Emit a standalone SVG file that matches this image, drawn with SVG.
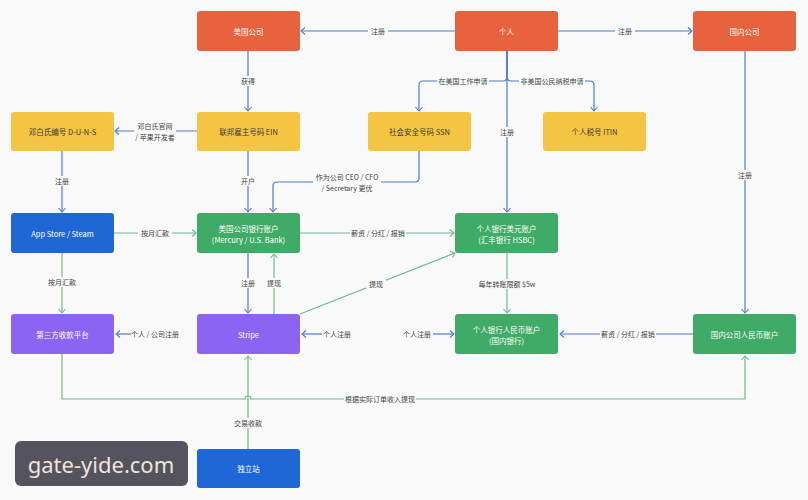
<svg xmlns="http://www.w3.org/2000/svg" width="808" height="500" viewBox="0 0 808 500">
<defs>
<marker id="ab" markerWidth="8" markerHeight="8" refX="5" refY="4" orient="auto" markerUnits="userSpaceOnUse"><path d="M1,0.5 L5,4 L1,7.5" fill="none" stroke="#4a7cd0" stroke-width="1.1"/></marker>
<marker id="ag" markerWidth="8" markerHeight="8" refX="5" refY="4" orient="auto" markerUnits="userSpaceOnUse"><path d="M1,0.5 L5,4 L1,7.5" fill="none" stroke="#6cba8b" stroke-width="1.1"/></marker>
<style>
text{font-family:"Noto Sans CJK SC","Noto Sans",sans-serif;text-anchor:middle;dominant-baseline:central}
.n{font-size:7.5px;fill:#fff}
.d{font-size:7.5px;fill:#3a3a3a}
.l{font-size:7px;fill:#444}
.b{fill:none;stroke:#4a7cd0;stroke-width:1.2;marker-end:url(#ab)}
.g{fill:none;stroke:#6cba8b;stroke-width:1.2;marker-end:url(#ag)}
.bn{fill:none;stroke:#4a7cd0;stroke-width:1.2}
.gn{fill:none;stroke:#6cba8b;stroke-width:1.2}
.lb{fill:#f9f9fa}
.or{fill:#e7623d}.ye{fill:#f5c443}.bl{fill:#1f67d7}.gr{fill:#3fab66}.pu{fill:#8b64f1}
</style>
</defs>
<rect width="808" height="500" fill="#f9f9fa"/>
<g id="connectors">
<!-- 个人 -> 美国公司 -->
<path class="b" d="M455,31 H301"/>
<rect class="lb" x="368" y="26" width="20" height="10"/><text class="l" x="378" y="31">注册</text>
<!-- 个人 -> 国内公司 -->
<path class="b" d="M558,31 H692"/>
<rect class="lb" x="615" y="26" width="20" height="10"/><text class="l" x="625" y="31">注册</text>
<!-- 美国公司 -> EIN -->
<path class="b" d="M248,51 V111"/>
<rect class="lb" x="238" y="76" width="20" height="10"/><text class="l" x="248" y="81">获得</text>
<!-- 个人 -> SSN / ITIN -->
<path class="b" d="M507,51 V77 Q507,81 503,81 H423 Q419,81 419,85 V111"/>
<path class="b" d="M507,51 V77 Q507,81 511,81 H590 Q594,81 594,85 V111"/>
<rect class="lb" x="437" y="76" width="52" height="10"/><text class="l" x="463" y="81">在美国工作申请</text>
<rect class="lb" x="519" y="76" width="66" height="10"/><text class="l" x="552" y="81">非美国公民纳税申请</text>
<!-- 个人 -> 个人银行美元账户 -->
<path class="b" d="M507,51 V212"/>
<rect class="lb" x="497" y="127" width="20" height="10"/><text class="l" x="507" y="132">注册</text>
<!-- EIN -> DUNS -->
<path class="b" d="M197,131 H115"/>
<rect class="lb" x="134" y="121" width="42" height="22"/>
<text class="l" x="155" y="126">邓白氏官网</text><text class="l" x="155" y="137">/ 苹果开发者</text>
<!-- DUNS -> App Store -->
<path class="b" d="M62,151 V212"/>
<rect class="lb" x="52" y="176" width="20" height="10"/><text class="l" x="62" y="181">注册</text>
<!-- EIN -> 美国公司银行账户 -->
<path class="b" d="M248,151 V212"/>
<rect class="lb" x="238" y="176" width="20" height="10"/><text class="l" x="248" y="181">开户</text>
<!-- SSN -> 美国公司银行账户 -->
<path class="b" d="M419,151 V178 Q419,182 415,182 H277 Q273,182 273,186 V212"/>
<rect class="lb" x="313" y="171" width="68" height="23"/>
<text class="l" x="347" y="177">作为公司 CEO / CFO</text><text class="l" x="347" y="188">/ Secretary 更优</text>
<!-- 国内公司 -> 国内公司人民币账户 -->
<path class="b" d="M745,51 V313"/>
<rect class="lb" x="735" y="170" width="20" height="10"/><text class="l" x="745" y="175">注册</text>
<!-- App Store -> 美国公司银行账户 -->
<path class="g" d="M114,233 H196"/>
<rect class="lb" x="138" y="228" width="34" height="10"/><text class="l" x="155" y="233">按月汇款</text>
<!-- 美国公司银行账户 -> 个人银行美元账户 -->
<path class="g" d="M300,233 H454"/>
<rect class="lb" x="350" y="228" width="56" height="10"/><text class="l" x="378" y="233">薪资 / 分红 / 报销</text>
<!-- App Store -> 第三方收款平台 -->
<path class="g" d="M62,253 V313"/>
<rect class="lb" x="45" y="277" width="34" height="10"/><text class="l" x="62" y="282">按月汇款</text>
<!-- 美国公司银行账户 -> Stripe -->
<path class="b" d="M248,253 V313"/>
<rect class="lb" x="238" y="278" width="20" height="10"/><text class="l" x="248" y="283">注册</text>
<!-- Stripe -> 美国公司银行账户 -->
<path class="g" d="M274,314 V254"/>
<rect class="lb" x="264" y="278" width="20" height="10"/><text class="l" x="274" y="283">提现</text>
<!-- Stripe -> 个人银行美元账户 -->
<path class="g" d="M300,314 L455,253"/>
<rect class="lb" x="366" y="279" width="20" height="10"/><text class="l" x="376" y="284">提现</text>
<!-- 个人银行美元账户 -> 个人银行人民币账户 -->
<path class="g" d="M507,253 V313"/>
<rect class="lb" x="478" y="279" width="58" height="10"/><text class="l" x="507" y="284">每年转账限额 $5w</text>
<!-- 注册 labels into row 4 -->
<path class="b" d="M131,334 H116"/><text class="l" x="155" y="334">个人 / 公司注册</text>
<path class="b" d="M322,334 H302"/><text class="l" x="337" y="334">个人注册</text>
<path class="b" d="M433,334 H454"/><text class="l" x="417" y="334">个人注册</text>
<!-- 国内公司人民币账户 -> 个人银行人民币账户 -->
<path class="b" d="M693,334 H560"/>
<rect class="lb" x="600" y="329" width="56" height="10"/><text class="l" x="628" y="334">薪资 / 分红 / 报销</text>
<!-- 第三方收款平台 -> 国内公司人民币账户 -->
<path class="g" d="M62,354 V399 H245 A3,3 0 0 1 251,399 H745 V356"/>
<rect class="lb" x="344" y="394" width="72" height="10"/><text class="l" x="380" y="399">根据实际订单收入提现</text>
<!-- 独立站 -> Stripe -->
<path class="g" d="M248,449 V356"/>
<rect class="lb" x="233" y="418" width="30" height="10"/><text class="l" x="248" y="423">交易收款</text>
</g>
<g id="n-uscompany"><rect class="or" x="197" y="11" width="103" height="40" rx="3"/><text class="n" x="248.5" y="31">美国公司</text></g>
<g id="n-person"><rect class="or" x="455" y="11" width="103" height="40" rx="3"/><text class="n" x="506.5" y="31">个人</text></g>
<g id="n-cncompany"><rect class="or" x="693" y="11" width="103" height="40" rx="3"/><text class="n" x="744.5" y="31">国内公司</text></g>
<g id="n-duns"><rect class="ye" x="11" y="112" width="103" height="39" rx="3"/><text class="d" x="62.5" y="131.5">邓白氏编号 D-U-N-S</text></g>
<g id="n-ein"><rect class="ye" x="197" y="112" width="103" height="39" rx="3"/><text class="d" x="248.5" y="131.5">联邦雇主号码 EIN</text></g>
<g id="n-ssn"><rect class="ye" x="368" y="112" width="103" height="39" rx="3"/><text class="d" x="419.5" y="131.5">社会安全号码 SSN</text></g>
<g id="n-itin"><rect class="ye" x="543" y="112" width="103" height="39" rx="3"/><text class="d" x="594.5" y="131.5">个人税号 ITIN</text></g>
<g id="n-appstore"><rect class="bl" x="11" y="213" width="103" height="40" rx="3"/><text class="n" x="62.5" y="233">App Store / Steam</text></g>
<g id="n-usbank"><rect class="gr" x="197" y="213" width="103" height="40" rx="3"/><text class="n" x="248.5" y="228">美国公司银行账户</text><text class="n" x="248.5" y="239">(Mercury / U.S. Bank)</text></g>
<g id="n-usd"><rect class="gr" x="455" y="213" width="103" height="40" rx="3"/><text class="n" x="506.5" y="228">个人银行美元账户</text><text class="n" x="506.5" y="239">(汇丰银行 HSBC)</text></g>
<g id="n-third"><rect class="pu" x="11" y="314" width="103" height="40" rx="3"/><text class="n" x="62.5" y="334">第三方收款平台</text></g>
<g id="n-stripe"><rect class="pu" x="197" y="314" width="103" height="40" rx="3"/><text class="n" x="248.5" y="334">Stripe</text></g>
<g id="n-rmb"><rect class="gr" x="455" y="314" width="103" height="40" rx="3"/><text class="n" x="506.5" y="329">个人银行人民币账户</text><text class="n" x="506.5" y="340">(国内银行)</text></g>
<g id="n-cnrmb"><rect class="gr" x="693" y="314" width="103" height="40" rx="3"/><text class="n" x="744.5" y="334">国内公司人民币账户</text></g>
<g id="n-site"><rect class="bl" x="197" y="449" width="103" height="39" rx="3"/><text class="n" x="248.5" y="468.5">独立站</text></g>
<g id="watermark"><rect x="15" y="441" width="173" height="45" rx="6" fill="#55545e"/><text x="101" y="464" style="font-family:'Noto Sans',sans-serif;font-size:22px;fill:#ece6da">gate-yide.com</text></g>
</svg>
